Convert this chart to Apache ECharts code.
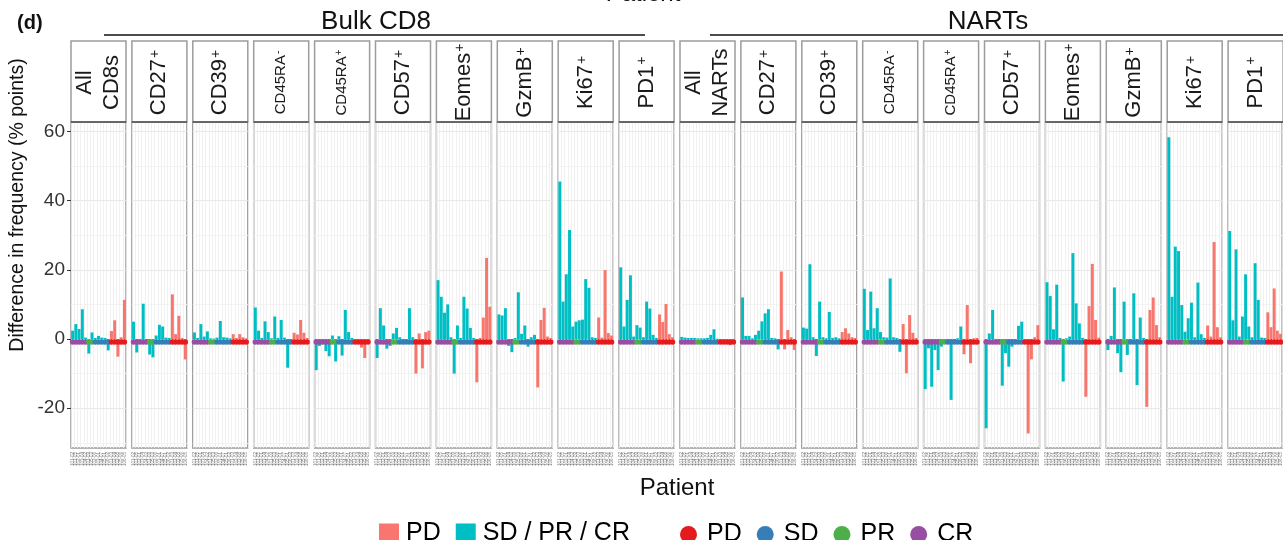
<!DOCTYPE html>
<html>
<head>
<meta charset="utf-8">
<title>Difference in frequency by patient</title>
<script src="https://cdn.jsdelivr.net/npm/echarts@6/dist/echarts.min.js"></script>
<style>
  html, body { margin: 0; padding: 0; background: #ffffff; }
  #chart { width: 1283px; height: 540px; }
</style>
</head>
<body>
<div id="chart"></div>
<script>
// Patients (x categories) and their best response
const patients = ['101-02', '101-05', '102-01', '103-04', '104-02', '101-09', '105-03',
  '102-06', '103-01', '104-07', '105-01', '106-02', '101-03', '102-04', '103-08', '105-06', '106-05'];
const response = ['CR', 'CR', 'CR', 'CR', 'CR', 'PR', 'PR', 'SD', 'SD', 'SD', 'SD', 'SD',
  'PD', 'PD', 'PD', 'PD', 'PD'];

// Facet labels
const bulkMarkers = ['All CD8s', 'CD27+', 'CD39+', 'CD45RA-', 'CD45RA+', 'CD57+', 'Eomes+', 'GzmB+', 'Ki67+', 'PD1+'];
const nartMarkers = ['All NARTs', 'CD27+', 'CD39+', 'CD45RA-', 'CD45RA+', 'CD57+', 'Eomes+', 'GzmB+', 'Ki67+', 'PD1+'];

// Difference in frequency (% points), one value per patient — Bulk CD8
const bulkAll    = [2.4, 4.3, 2.9, 8.6, 0.4, -4.2, 1.9, 0.3, 0.9, 0.4, 0.3, -3.3, 2.3, 5.4, -5.1, 0.5, 11.3];
const bulkCD27   = [5.0, -3.9, -0.5, 10.2, -1.2, -4.5, -5.3, 1.0, 4.1, 3.6, 0.4, 0.3, 12.9, 1.4, 6.7, 0.3, -5.9];
const bulkCD39   = [1.9, 0.3, 4.3, 0.7, 2.2, 0.2, 0.1, 0.4, 5.2, 0.5, 0.4, 0.2, 1.4, 0.3, 1.4, 0.5, 0.2];
const bulkRAneg  = [9.1, 2.4, 0.3, 5.1, 2.0, 0.2, 6.5, 0.3, 5.5, 0.4, -8.3, -1.0, 1.8, 1.3, 5.5, 1.8, 0.3];
const bulkRApos  = [-9.0, -2.0, -1.5, -3.5, -5.0, 1.0, -6.5, 0.8, -4.8, 8.4, 2.0, 0.3, -0.5, -0.8, -2.5, -5.5, -1.0];
const bulkCD57   = [-5.5, 8.9, 3.9, -2.8, -2.0, 1.6, 3.2, 0.5, -1.5, -1.0, 8.9, 0.5, -10.0, 1.6, -8.5, 2.0, 2.4];
const bulkEomes  = [17.0, 12.2, 7.6, 10.0, 0.5, -10.0, 3.9, 0.3, 12.2, 8.8, 3.2, 0.3, -12.5, 0.3, 6.2, 23.4, 9.3];
const bulkGzmB   = [7.1, 6.8, 8.9, -2.0, -3.8, 0.3, 13.5, 1.5, 3.9, -2.2, 0.5, 1.2, -14.0, 5.5, 9.0, 0.7, 0.3];
const bulkKi67   = [45.5, 10.8, 18.7, 31.5, 3.6, 5.0, 5.4, 5.6, 17.3, 14.8, 0.5, 0.3, 6.2, 0.4, 19.9, 1.7, 1.0];
const bulkPD1    = [20.7, 3.6, 11.3, 18.4, 0.7, 4.0, 3.3, 0.5, 10.8, 8.8, 1.2, 0.3, 7.1, 4.9, 10.1, 1.4, 0.5];

// Difference in frequency (% points), one value per patient — NARTs
const nartAll    = [0.6, 0.4, 0.3, 0.3, 0.3, 0.2, 0.2, 0.2, 0.3, 1.2, 2.8, 0.1, -0.5, -0.5, -0.4, -1.8, -0.7];
const nartCD27   = [12.0, 0.9, 0.9, 0.2, 1.2, 2.4, 5.1, 7.4, 8.6, 0.3, 0.2, -3.0, 19.5, -3.0, 2.6, 0.5, -3.2];
const nartCD39   = [3.3, 3.0, 21.6, 0.5, -4.9, 10.8, 0.5, 0.2, 7.8, 0.3, 0.5, 0.2, 2.0, 3.1, 1.6, 0.5, 0.3];
const nartRAneg  = [14.5, 2.6, 13.7, 3.1, 8.9, 2.0, 0.5, 0.4, 17.5, 0.5, 0.3, -3.7, 4.3, -9.9, 6.9, 1.8, 0.3];
const nartRApos  = [-14.5, -2.7, -13.8, -3.2, -9.0, -2.2, -0.6, -0.3, -17.6, -0.3, 0.2, 3.6, -4.4, 9.8, -7.0, 0.2, 0.3];
const nartCD57   = [-25.8, 1.6, 8.4, -0.3, -0.5, -13.5, -4.1, -8.0, -2.2, -1.5, 3.8, 5.0, -0.4, -27.3, -5.9, 0.5, 4.0];
const nartEomes  = [16.4, 12.4, 2.8, 15.7, 0.3, -12.3, 0.2, 0.7, 24.8, 10.3, 4.5, 0.3, -16.7, 9.5, 21.7, 5.5, 0.4];
const nartGzmB   = [-3.2, 0.9, 14.9, -4.1, -9.6, 10.8, -4.6, -1.0, 13.2, -13.3, 6.2, 0.3, -19.6, 8.4, 12.0, 4.0, 0.5];
const nartKi67   = [58.3, 12.2, 26.7, 25.4, 9.8, 2.1, 6.0, 10.5, 0.5, 16.3, 1.4, 0.3, 3.9, 0.7, 28.0, 3.4, 0.5];
const nartPD1    = [31.2, 5.4, 25.9, 0.7, 6.5, 18.7, 3.6, 0.5, 21.9, 11.3, 0.4, 0.3, 7.7, 3.4, 14.6, 2.4, 1.5];

// Y axis ticks
const yMajorTicks = [-20, 0, 20, 40, 60];
const yGridValues = [-30, -20, -10, 0, 10, 20, 30, 40, 50, 60];

const panelValues = [
  bulkAll, bulkCD27, bulkCD39, bulkRAneg, bulkRApos, bulkCD57, bulkEomes, bulkGzmB, bulkKi67, bulkPD1,
  nartAll, nartCD27, nartCD39, nartRAneg, nartRApos, nartCD57, nartEomes, nartGzmB, nartKi67, nartPD1
];
const panelLabels = bulkMarkers.concat(nartMarkers);

// ---- layout & style ----
const FONT = '"Liberation Sans", Arial, Helvetica, sans-serif';
const PANEL_LEFT = 71, PANEL_STEP = 60.9, PANEL_W = 55;
const PANEL_TOP = 122, PANEL_H = 326;
const STRIP_TOP = 41;
const Y_MIN = -31.5, Y_MAX = 62.7;
const DOT_Y = -0.9;
const BAR_PD = '#F8766D', BAR_OTHER = '#00BFC4';
const dotGroups = [
  { key: 'CR', name: 'CR', color: '#984EA3' },
  { key: 'PR', name: 'PR', color: '#4DAF4A' },
  { key: 'SD', name: 'SD', color: '#377EB8' },
  { key: 'PD', name: 'PD ', color: '#E41A1C' }
];

const grids = [], xAxes = [], yAxes = [], series = [], graphics = [];

panelValues.forEach(function (vals, i) {
  const left = PANEL_LEFT + i * PANEL_STEP;
  grids.push({
    left: left, top: PANEL_TOP, width: PANEL_W, height: PANEL_H,
    show: true, backgroundColor: '#ffffff', borderColor: '#9c9c9c', borderWidth: 1.5
  });
  xAxes.push({
    type: 'category', gridIndex: i, data: patients, boundaryGap: true,
    axisLine: { show: false },
    axisTick: { show: true, alignWithLabel: true, interval: 0, length: 3, lineStyle: { color: '#777', width: 0.8 } },
    axisLabel: { show: true, interval: 0, rotate: 90, fontSize: 4.5, color: '#777', margin: 4, fontFamily: FONT },
    splitLine: { show: true, interval: 0, lineStyle: { color: '#eeeeee', width: 0.8 } }
  });
  yAxes.push({
    type: 'value', gridIndex: i, min: Y_MIN, max: Y_MAX,
    axisLine: { show: false },
    axisTick: { show: false, customValues: yGridValues },
    axisLabel: { show: false },
    splitLine: { show: true, lineStyle: { color: ['#f4f4f4', '#e7e7e7'], width: 1 } }
  });

  const pdData = vals.map(function (v, k) { return response[k] === 'PD' ? v : null; });
  const otherData = vals.map(function (v, k) { return response[k] !== 'PD' ? v : null; });
  series.push({
    type: 'bar', name: 'PD', xAxisIndex: i, yAxisIndex: i, data: pdData,
    barGap: '-100%', barCategoryGap: '8%', itemStyle: { color: BAR_PD }, z: 2
  });
  series.push({
    type: 'bar', name: 'SD / PR / CR', xAxisIndex: i, yAxisIndex: i, data: otherData,
    barGap: '-100%', barCategoryGap: '8%', itemStyle: { color: BAR_OTHER }, z: 2
  });
  dotGroups.forEach(function (g) {
    const pts = [];
    response.forEach(function (r, k) { if (r === g.key) pts.push([k, DOT_Y]); });
    series.push({
      type: 'scatter', name: g.name, xAxisIndex: i, yAxisIndex: i, data: pts,
      symbol: 'circle', symbolSize: 5.5, itemStyle: { color: g.color, opacity: 1 }, z: 3
    });
  });

  // facet strip
  graphics.push({
    type: 'rect', silent: true, z: 50,
    shape: { x: left, y: STRIP_TOP, width: PANEL_W, height: PANEL_TOP - STRIP_TOP },
    style: { fill: '#ffffff', stroke: '#9c9c9c', lineWidth: 1.5 }
  });
  graphics.push({
    type: 'line', silent: true, z: 60,
    shape: { x1: left, y1: PANEL_TOP, x2: left + PANEL_W, y2: PANEL_TOP },
    style: { stroke: '#222222', lineWidth: 1.2 }
  });
  const lab = panelLabels[i];
  const cx = left + PANEL_W / 2, cy = (STRIP_TOP + PANEL_TOP) / 2 + 1;
  let textStyle;
  if (lab.indexOf('All ') === 0) {
    textStyle = { text: lab.replace(' ', '\n'), fontSize: 22, lineHeight: 27, fontFamily: FONT };
  } else {
    const sign = lab.slice(-1);
    const base = lab.slice(0, -1);
    const small = base.indexOf('CD45RA') === 0;
    textStyle = {
      text: '{m|' + base + '}{s|' + sign + '}',
      rich: {
        m: { fontSize: small ? 15 : 22, fontFamily: FONT, fill: '#1a1a1a', verticalAlign: 'bottom' },
        s: { fontSize: small ? 10 : 14, fontFamily: FONT, fill: '#1a1a1a', verticalAlign: 'top', padding: [0, 0, 0, 1] }
      }
    };
  }
  textStyle.fill = '#1a1a1a';
  textStyle.align = 'center';
  textStyle.verticalAlign = 'middle';
  graphics.push({ type: 'text', silent: true, z: 60, x: cx, y: cy, rotation: Math.PI / 2, style: textStyle });
});

// y tick labels on the first panel only
yAxes.push({
  type: 'value', gridIndex: 0, min: Y_MIN, max: Y_MAX, position: 'left',
  axisLine: { show: false },
  axisTick: { show: true, customValues: yMajorTicks, length: 4, lineStyle: { color: '#333', width: 1 } },
  axisLabel: { show: true, customValues: yMajorTicks, fontSize: 19, color: '#333', margin: 6, fontFamily: FONT },
  splitLine: { show: false }
});

// titles and group headers
graphics.push(
  { type: 'text', silent: true, x: 17, y: 23, style: { text: '(d)', fontSize: 20, fontWeight: 'bold', fontFamily: FONT, fill: '#111', align: 'left', verticalAlign: 'middle' } },
  { type: 'text', silent: true, x: 643, y: 6, style: { text: 'Patient', fontSize: 24, fontFamily: FONT, fill: '#111', align: 'center', verticalAlign: 'bottom' } },
  { type: 'text', silent: true, x: 376, y: 22, style: { text: 'Bulk CD8', fontSize: 26, fontFamily: FONT, fill: '#111', align: 'center', verticalAlign: 'middle' } },
  { type: 'line', silent: true, shape: { x1: 104, y1: 35, x2: 645, y2: 35 }, style: { stroke: '#111', lineWidth: 1.5 } },
  { type: 'text', silent: true, x: 988, y: 22, style: { text: 'NARTs', fontSize: 26, fontFamily: FONT, fill: '#111', align: 'center', verticalAlign: 'middle' } },
  { type: 'line', silent: true, shape: { x1: 710, y1: 35, x2: 1283, y2: 35 }, style: { stroke: '#111', lineWidth: 1.5 } },
  { type: 'text', silent: true, x: 677, y: 488, style: { text: 'Patient', fontSize: 24, fontFamily: FONT, fill: '#111', align: 'center', verticalAlign: 'middle' } },
  { type: 'text', silent: true, x: 18, y: 205, rotation: Math.PI / 2, style: { text: 'Difference in frequency (% points)', fontSize: 19.5, fontFamily: FONT, fill: '#111', align: 'center', verticalAlign: 'middle' } }
);

const chart = echarts.init(document.getElementById('chart'), null, { renderer: 'canvas' });
chart.setOption({
  animation: false,
  backgroundColor: '#ffffff',
  grid: grids,
  xAxis: xAxes,
  yAxis: yAxes,
  series: series,
  legend: [
    {
      data: ['PD', 'SD / PR / CR'], left: 374, top: 516, orient: 'horizontal',
      icon: 'rect', itemWidth: 20, itemHeight: 20, itemGap: 15, selectedMode: false,
      textStyle: { fontSize: 25, color: '#000', fontFamily: FONT, padding: [0, 0, 0, 2] }
    },
    {
      data: ['PD ', 'SD', 'PR', 'CR'], left: 675, top: 517, orient: 'horizontal',
      icon: 'circle', itemWidth: 17, itemHeight: 17, itemGap: 15, selectedMode: false,
      formatter: function (n) { return n.trim(); },
      textStyle: { fontSize: 25, color: '#000', fontFamily: FONT, padding: [0, 0, 0, 5] }
    }
  ],
  graphic: graphics
});
</script>
</body>
</html>
